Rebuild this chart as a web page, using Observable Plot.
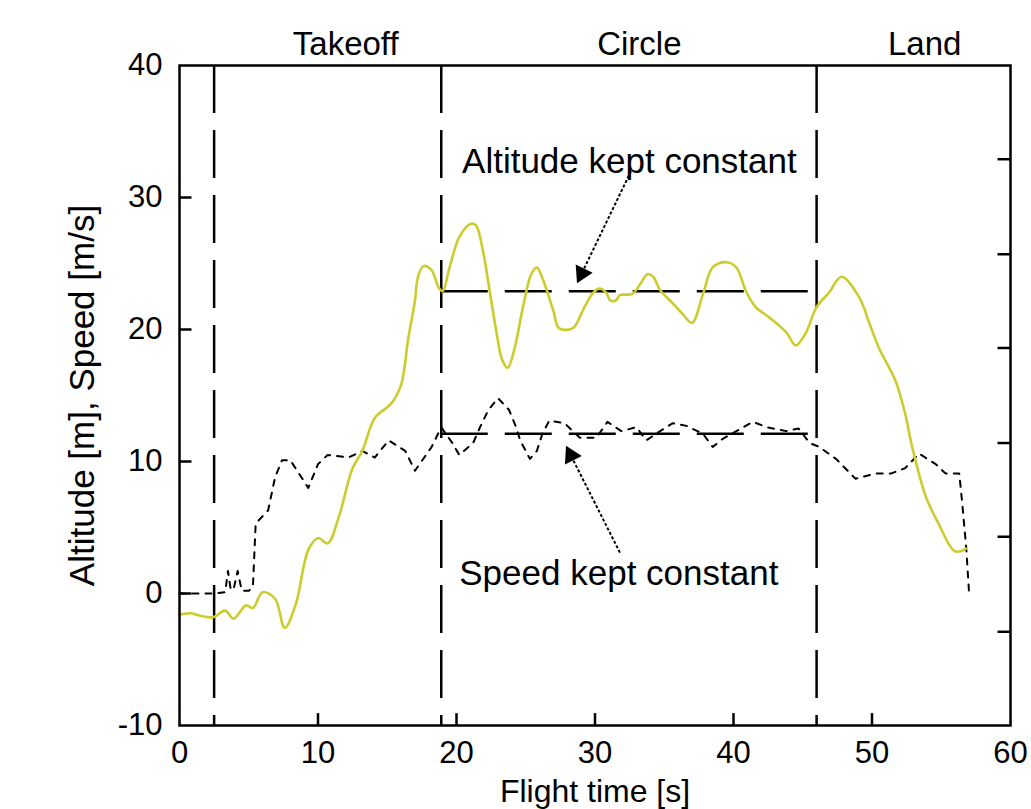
<!DOCTYPE html>
<html><head><meta charset="utf-8">
<script src="https://cdn.jsdelivr.net/npm/d3@7"></script>
<script src="https://cdn.jsdelivr.net/npm/@observablehq/plot@0.6"></script>
<style>body{margin:0;background:#fff;overflow:hidden}</style>
</head><body><div id="chart"></div>
<script>
// Altitude [m] (yellow solid)
const altT = [0,0.9,1.2,2.4,3.3,3.9,4.8,5.3,6.0,6.9,7.6,8.4,9.3,10.0,10.7,11.5,12.5,13.2,14.1,15.3,16.0,16.5,17.0,17.2,17.6,18.2,18.7,19.0,19.5,20.2,21.0,21.4,21.9,22.4,22.9,23.3,23.7,24.2,24.8,25.4,25.8,26.2,27.0,27.4,28.4,29.1,29.8,30.3,30.8,31.1,31.5,31.8,32.7,33.3,33.8,34.2,34.7,35.6,36.3,37.0,37.8,38.5,39.5,40.2,40.9,41.6,42.6,43.8,44.5,45.2,46.0,46.9,47.8,49.1,49.8,50.5,51.7,52.4,52.9,53.9,54.8,56.0,56.8];
const altV = [-1.6,-1.5,-1.6,-1.8,-1.3,-1.9,-0.9,-1.1,0.1,-0.4,-2.6,-0.8,3.3,4.2,3.8,5.8,9.5,10.8,13.3,14.4,15.8,19.2,22.2,23.9,24.8,24.5,23.2,22.9,24.7,27.0,28.0,27.9,26.0,22.9,19.7,17.7,17.1,18.6,21.7,24.2,24.7,23.9,21.4,20.1,20.1,21.4,22.7,23.1,22.8,22.2,22.2,22.6,22.7,23.5,24.2,24.0,23.0,22.0,21.2,20.5,22.7,24.7,25.1,24.7,22.9,21.7,20.9,19.8,18.8,19.7,21.7,22.8,24.0,22.4,20.5,18.6,16.1,13.6,11.1,7.3,5.3,3.2,3.4];
// Speed [m/s] (black dotted)
const spdT = [0,2.5,3.3,3.5,3.7,3.9,4.2,4.5,5.0,5.3,5.5,6.4,6.9,7.4,8.0,9.3,10.0,10.7,12.2,13.2,14.1,15.1,16.3,17.0,18.2,18.9,19.7,20.2,21.2,21.7,22.3,23.0,23.8,24.3,24.6,25.3,25.8,26.2,26.7,27.8,28.9,30.1,30.9,31.9,33.0,33.7,34.7,35.6,36.6,37.8,38.5,39.2,40.2,41.4,42.4,43.8,44.7,45.5,46.2,47.4,48.8,50.3,51.4,52.4,53.4,54.6,55.3,56.3,56.5,56.8,57.0];
const spdV = [0,0,0.1,1.7,0.3,0.3,1.7,0.2,0.2,0.5,5.3,6.3,8.8,10.1,10.1,8.0,9.8,10.5,10.3,10.8,10.3,11.6,10.8,9.3,11.1,12.6,11.4,10.5,11.4,12.6,13.9,14.8,13.9,12.6,11.6,10.2,10.8,12.1,13.1,12.9,11.8,11.8,13.0,12.3,12.6,11.6,12.3,12.9,12.7,12.1,11.1,11.7,12.3,13.0,12.6,12.3,12.5,11.4,11.1,10.2,8.7,9.1,9.1,9.5,10.6,9.8,9.1,9.1,7.0,3.5,0.2];

// Phase boundaries and labels
const phaseX = [2.5, 18.9, 46.0];
const phaseLabels = ["Takeoff", "Circle", "Land"];
const phaseLabelX = [12.0, 33.2, 53.8];
const phaseLabelY = 41.6;

// Constant reference levels (Circle phase)
const refNames = ["Altitude", "Speed"];
const refY = [22.9, 12.1];
const refX1 = [18.9, 18.9];
const refX2 = [46.0, 46.0];

// Annotations
const noteText = ["Altitude kept constant", "Speed kept constant"];
const noteX = [20.4, 20.2];
const noteY = [32.7, 1.5];
const arrowTailX = [32.6, 31.8];
const arrowTailY = [32.0, 3.1];
const arrowTipX = [28.7, 27.9];
const arrowTipY = [23.5, 11.2];

// Ticks
const xTicks = [0, 10, 20, 30, 40, 50, 60];
const yTicks = [-10, 0, 10, 20, 30, 40];
const rightTicks = [-2.9, 4.3, 11.4, 18.6, 25.7, 32.9];

const altitude = altT.map((t, i) => ({t, v: altV[i]}));
const speed = spdT.map((t, i) => ({t, v: spdV[i]}));
const refs = refNames.map((n, i) => ({n, y: refY[i], x1: refX1[i], x2: refX2[i]}));
const notes = noteText.map((s, i) => ({s, x: noteX[i], y: noteY[i], tx: arrowTailX[i], ty: arrowTailY[i], hx: arrowTipX[i], hy: arrowTipY[i]}));
const phases = phaseLabels.map((s, i) => ({s, x: phaseLabelX[i]}));

const FONT = "'Liberation Sans', Arial, Helvetica, sans-serif";
const X0 = 0, X1 = 60, Y0 = -10, Y1 = 40;
const TKX = 0.9, TKY = 0.9; // inward tick length in data units (~12px)

const chart = Plot.plot({
  width: 1031, height: 809,
  marginLeft: 179, marginRight: 21, marginTop: 65, marginBottom: 84,
  x: {domain: [X0, X1]},
  y: {domain: [Y0, Y1]},
  style: {fontFamily: FONT, background: "#fff", color: "black"},
  marks: [
    // phase boundaries
    Plot.ruleX(phaseX, {stroke: "black", strokeWidth: 2.5, strokeDasharray: "48,17"}),
    // constant reference lines
    Plot.ruleY(refs, {y: "y", x1: "x1", x2: "x2", stroke: "black", strokeWidth: 2.5, strokeDasharray: "47,17"}),
    // data
    Plot.line(speed, {x: "t", y: "v", stroke: "black", strokeWidth: 2, strokeDasharray: "6,7", curve: "linear"}),
    Plot.line(altitude, {x: "t", y: "v", stroke: "#cccc2e", strokeWidth: 2.6, curve: "catmull-rom"}),
    // arrows
    Plot.link(notes, {x1: "tx", y1: "ty", x2: "hx", y2: "hy", stroke: "black", strokeWidth: 2, strokeDasharray: "3,2"}),
    Plot.dot(notes.slice(0, 1), {x: "hx", y: "hy", symbol: "triangle", r: 7, fill: "black", rotate: 206, dx: 4.8, dy: -9.9}),
    Plot.dot(notes.slice(1, 2), {x: "hx", y: "hy", symbol: "triangle", r: 7, fill: "black", rotate: -26.7, dx: 5, dy: 9.8}),
    // annotation texts
    Plot.text(notes, {x: "x", y: "y", text: "s", textAnchor: "start", lineAnchor: "middle", fontSize: 35, fill: "black"}),
    Plot.text(phases, {x: "x", y: () => phaseLabelY, text: "s", textAnchor: "middle", lineAnchor: "middle", fontSize: 33, fill: "black"}),
    // frame
    Plot.frame({stroke: "black", strokeWidth: 2.5}),
    // inward ticks
    Plot.ruleX(xTicks.slice(1, -1), {x: d => d, y1: () => Y0, y2: () => Y0 + TKY, stroke: "black", strokeWidth: 2.5}),
    Plot.ruleY(yTicks.slice(1, -1), {y: d => d, x1: () => X0, x2: () => X0 + TKX, stroke: "black", strokeWidth: 2.5}),
    Plot.ruleY(rightTicks, {y: d => d, x1: () => X1 - TKX, x2: () => X1, stroke: "black", strokeWidth: 2.5}),
    // tick labels
    Plot.axisX({ticks: xTicks, tickSize: 0, tickPadding: 15, fontSize: 31, tickFormat: d => String(d), label: null}),
    Plot.axisY({ticks: yTicks, tickSize: 0, tickPadding: 17, fontSize: 31, tickFormat: d => String(d), label: null}),
    // axis titles
    Plot.text(["Altitude [m], Speed [m/s]"], {frameAnchor: "left", dx: -97, rotate: -90, textAnchor: "middle", lineAnchor: "middle", fontSize: 35, fill: "black"}),
    Plot.text(["Flight time [s]"], {frameAnchor: "bottom", dy: 66, textAnchor: "middle", lineAnchor: "middle", fontSize: 32, fill: "black"})
  ]
});
document.getElementById("chart").append(chart);
</script>
</body></html>
